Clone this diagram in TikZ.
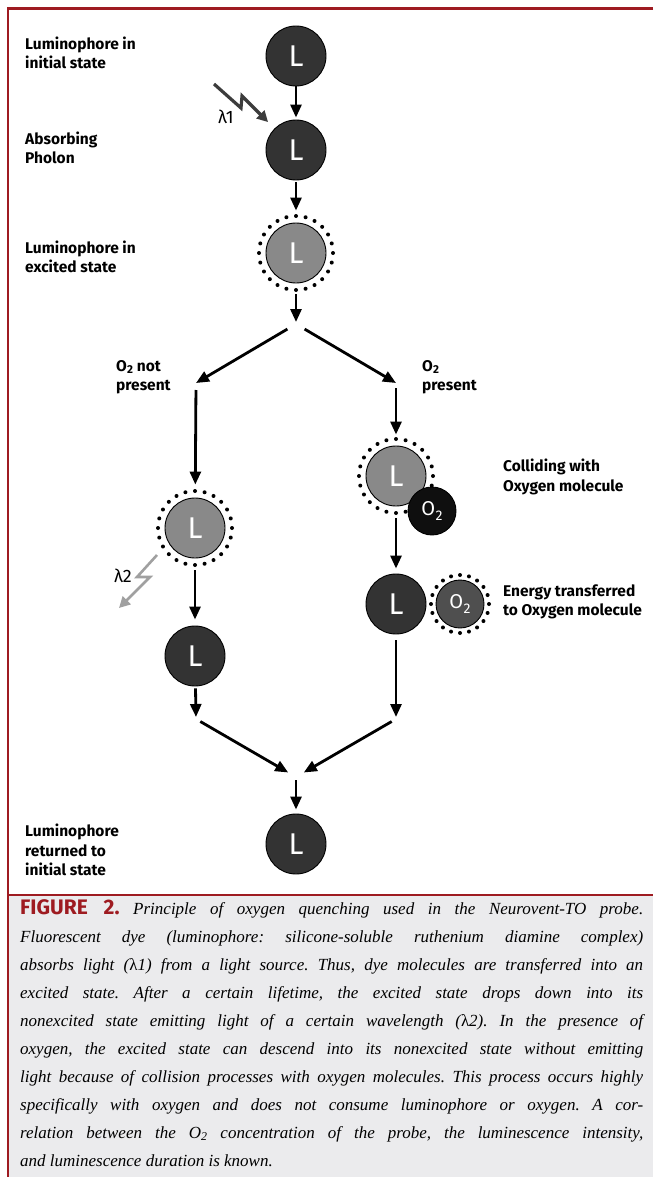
\documentclass[tikz,border=0pt]{standalone}
\usepackage{fontspec}
\setmainfont{Liberation Serif}
\newfontfamily\labelfont{Fira Sans}
\usetikzlibrary{arrows.meta}

\definecolor{frame}{HTML}{9E1B21}
\definecolor{capbg}{HTML}{EBEBED}
\definecolor{lumdark}{HTML}{333333}
\definecolor{lumexc}{HTML}{898989}
\definecolor{oxdark}{HTML}{0F0F0F}
\definecolor{oxgray}{HTML}{4F4F4F}
\definecolor{boltdark}{HTML}{3C3C3C}
\definecolor{boltlight}{HTML}{A0A0A0}

\newcommand\Otwo{O\kern0.3pt\raisebox{-0.35ex}{\fontsize{11.5}{11.5}\selectfont 2}}
\newcommand\Otwoin{O\kern0.3pt\raisebox{-0.45ex}{\fontsize{14}{14}\selectfont 2}}
\newcommand\lamup{{\upshape λ}}
% ring of small dots round an excited node
\newcommand\dotring[3]{\foreach \a in {0,#3,...,359} \fill (#1) ++(\a:#2) circle[radius=2pt];}

\begin{document}
\begin{tikzpicture}[x=1pt,y=-1pt,
    lum/.style={circle, draw=black, line width=0.9pt, minimum size=60pt, inner sep=0pt, text=white, font=\labelfont\fontsize{30}{30}\selectfont},
    ground/.style={lum, fill=lumdark},
    excited/.style={lum, fill=lumexc},
    oxy/.style={circle, draw=black, line width=0.9pt, minimum size=48pt, inner sep=0pt, text=white, font=\labelfont\fontsize{20}{20}\selectfont},
    flow/.style={line width=2.8pt, -{Triangle[length=13pt,width=11pt]}},
    bolt/.style={line width=3.2pt, -{Triangle[length=11pt,width=11pt]}},
    lbl/.style={font=\labelfont\bfseries\fontsize{15.5}{19.5}\selectfont, align=left, anchor=west, inner sep=0pt},
    lam/.style={font=\labelfont\fontsize{18}{18}\selectfont, inner sep=0pt},
    caption/.style={font=\itshape\fontsize{17}{28}\selectfont\frenchspacing, text width=623pt, align=justify, anchor=north west, inner sep=0pt},
  ]
  \useasboundingbox (0,0) rectangle (653,1177);
  \fill[white] (0,0) rectangle (653,1177);

  %Frame
  \fill[capbg] (8,896) rectangle (653,1177);
  \draw[frame, line width=2.5pt] (653,8.5) -- (8,8.5) -- (8,1177);
  \draw[frame, line width=2.5pt] (8,895) -- (653,895);

  %Nodes
  \node[ground]  (L1) at (296,56)  {L};
  \node[ground]  (L2) at (296,150) {L};
  \node[excited] (L3) at (296,253) {L};
  \dotring{L3}{37}{15}

  \node[excited] (LE) at (195,528) {L};
  \dotring{LE}{37}{15}
  \node[ground]  (LD) at (195,656) {L};

  \node[excited] (RE) at (396,476) {L};
  \dotring{RE}{37}{15}
  \node[oxy, fill=oxdark] (OxA) at (432,511) {\Otwoin};
  \node[ground]  (RD) at (396,604) {L};
  \node[oxy, fill=oxgray] (OxB) at (460,604) {\Otwoin};
  \dotring{OxB}{29}{18}

  \node[ground]  (LB) at (296,844) {L};

  \coordinate (fork)   at (296,324);
  \coordinate (lsplit) at (196,383);
  \coordinate (rsplit) at (396,383);
  \coordinate (ljoin)  at (196,719);
  \coordinate (rjoin)  at (396,719);
  \coordinate (merge)  at (296,777);

  %Labels
  \node[lbl] (tInit)  at (25,53)    {Luminophore in\\initial state};
  \node[lbl] (tAbs)   at (25,148)   {Absorbing\\Pholon};
  \node[lbl] (tExc)   at (25,257)   {Luminophore in\\excited state};
  \node[lbl] (tNo)    at (116,377)  {\Otwo{} not\\present};
  \node[lbl] (tYes)   at (422,377)  {\Otwo\\present};
  \node[lbl] (tCol)   at (503,477)  {Colliding with\\Oxygen molecule};
  \node[lbl] (tTrans) at (503,602)  {Energy transferred\\to Oxygen molecule};
  \node[lbl] (tRet)   at (25,850)   {Luminophore\\returned to\\initial state};

  \node[lam] (lam1) at (226,117) {λ1};
  \node[lam] (lam2) at (123,576) {λ2};

  %Lines
  \draw[flow, shorten >=2pt] (L1) -- (L2);
  \draw[flow, shorten <=2pt, shorten >=12pt] (L2) -- (L3);
  \draw[flow, shorten <=11pt, shorten >=2pt] (L3) -- (fork);
  \draw[flow, shorten <=10pt] (fork) -- (lsplit);
  \draw[flow, shorten <=10pt] (fork) -- (rsplit);

  \draw[flow, shorten <=7pt, shorten >=13pt] (lsplit) -- (LE);
  \draw[flow, shorten <=12pt, shorten >=6pt] (LE) -- (LD);
  \draw[flow, shorten <=2pt, shorten >=2pt] (LD) -- (ljoin);

  \draw[flow, shorten <=5pt, shorten >=11pt] (rsplit) -- (RE);
  \draw[flow, shorten <=12pt, shorten >=5pt] (RE) -- (RD);
  \draw[flow, shorten <=6pt, shorten >=2pt] (RD) -- (rjoin);

  \draw[flow, shorten <=5pt, shorten >=9pt] (ljoin) -- (merge);
  \draw[flow, shorten <=5pt, shorten >=9pt] (rjoin) -- (merge);
  \draw[flow, shorten <=3pt, shorten >=4pt] (merge) -- (LB);

  %Light
  \coordinate (l1src) at (214,84);
  \draw[bolt, boltdark, shorten >=9pt] (l1src) -- ++(27,24) -- ++(1,-12) -- (L2);
  \coordinate (l2src) at ([shift={(-38,27)}]LE.center);
  \coordinate (l2end) at (119,608);
  \draw[bolt, boltlight, line width=2.6pt] (l2src) -- ++(-20,22) -- ++(13,0) -- (l2end);

  %Caption
  \node[caption] (cap) at (20,899) {{\labelfont\bfseries\upshape\color{frame}\fontsize{21}{21}\selectfont FIGURE 2.}\ Principle of oxygen quenching used in the Neurovent-TO probe.\linebreak
    Fluorescent dye (luminophore: silicone-soluble ruthenium diamine complex)\linebreak
    absorbs light (\lamup1) from a light source. Thus, dye molecules are transferred into an\linebreak
    excited state. After a certain lifetime, the excited state drops down into its\linebreak
    nonexcited state emitting light of a certain wavelength (\lamup2). In the presence of\linebreak
    oxygen, the excited state can descend into its nonexcited state without emitting\linebreak
    light because of collision processes with oxygen molecules. This process occurs highly\linebreak
    specifically with oxygen and does not consume luminophore or oxygen. A cor-\linebreak
    relation between the O\textsubscript{2} concentration of the probe, the luminescence intensity,\linebreak
    and luminescence duration is known.};
\end{tikzpicture}
\end{document}
